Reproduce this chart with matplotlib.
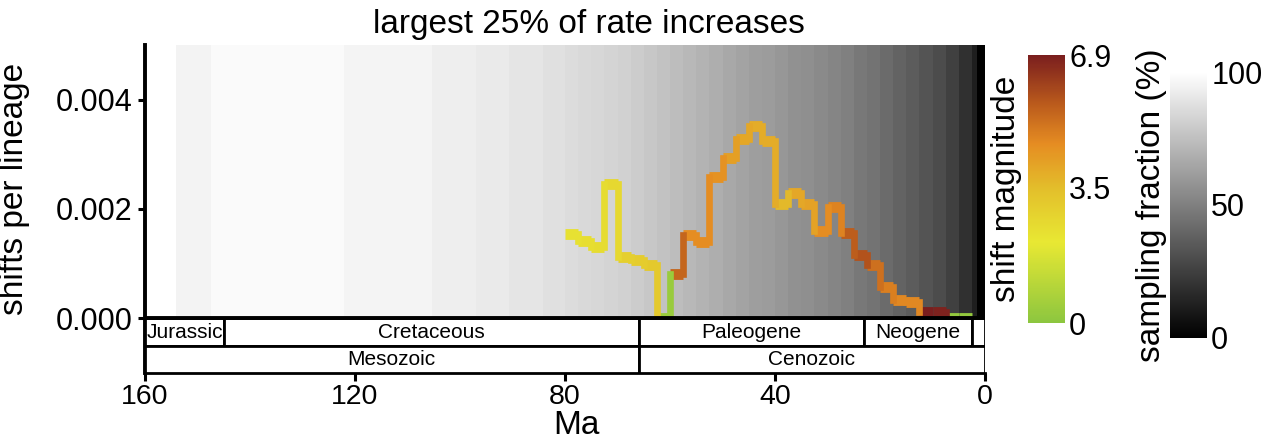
import numpy as np
import matplotlib
matplotlib.use('Agg')
import matplotlib.pyplot as plt
from matplotlib.collections import LineCollection
from matplotlib.colors import LinearSegmentedColormap, Normalize
from matplotlib.patches import Rectangle
from matplotlib.cm import ScalarMappable

plt.rcParams['font.family'] = ['Liberation Sans', 'DejaVu Sans']

# rate-increase bins (Ma, old -> young), 2.5 Ma wide
bin_edges = [80, 77.5, 75, 72.5, 70, 67.5, 65, 62.5, 60, 57.5, 55, 52.5, 50,
             47.5, 45, 42.5, 40, 37.5, 35, 32.5, 30, 27.5, 25, 22.5, 20,
             17.5, 15, 12.5, 10, 7.5, 5, 2.5]
shift_rate = [0.00155, 0.00142, 0.00131, 0.00246, 0.00112, 0.00106, 0.00097,
              0.0, 0.00082, 0.00152, 0.00139, 0.00258, 0.00294, 0.00328,
              0.00351, 0.00324, 0.00210, 0.00230, 0.00210, 0.00159, 0.00203,
              0.00157, 0.00115, 0.00097, 0.00057, 0.00033, 0.00030, 0.00012,
              0.00012, 0.0, 0.0]
shift_mag = [2.3, 2.4, 2.5, 2.6, 2.9, 3.0, 3.1, 0.3, 5.4, 4.6, 4.6, 4.5, 4.2,
             4.0, 3.9, 3.9, 3.6, 4.0, 4.1, 4.6, 4.8, 5.6, 5.8, 5.2, 4.9, 4.7,
             4.7, 6.9, 6.8, 0.2, 0.2]

# sampling fraction through time (background shading)
bg_edges = [154.1, 147.4, 122.1, 105.3, 97.0, 90.7, 84.2, 80, 77.5, 75, 72.5,
            70, 67.5, 65, 62.5, 60, 57.5, 55, 52.5, 50, 47.5, 45, 42.5, 40,
            37.5, 35, 32.5, 30, 27.5, 25, 22.5, 20, 17.5, 15, 12.5, 10, 7.5,
            5, 2.5, 1.5, 0]
bg_frac = [95, 98, 95.5, 93, 91.5, 89.5, 87.5,
           86, 85, 84, 83, 82, 80, 78, 76, 74, 72, 70, 68, 66, 64, 62, 61, 59,
           57, 56, 54, 52, 50, 47, 45, 42, 39, 36, 33, 30, 25, 19,
           12, 0]

# geological time scale
periods = ['Jurassic', 'Cretaceous', 'Paleogene', 'Neogene', '']
period_start = [160, 145, 66, 23, 2.58]
period_end = [145, 66, 23, 2.58, 0]
eras = ['Mesozoic', 'Cenozoic']
era_start = [160, 66]
era_end = [66, 0]

mag_max = 6.9
cmap = LinearSegmentedColormap.from_list('shift', [
    (0.0, '#8cc63f'), (0.30, '#e8e833'), (0.50, '#e3bf2b'),
    (0.67, '#e58c22'), (0.82, '#ba5a1c'), (1.0, '#7a1e1e')])
norm = Normalize(0, mag_max)

fig = plt.figure(figsize=(12.74, 4.42), dpi=100)
ax = fig.add_axes([0.1138, 0.1561, 0.6594, 0.7421])

ax.pcolormesh(bg_edges, [0, 0.005], np.array(bg_frac)[np.newaxis, :],
              cmap='gray', vmin=0, vmax=100, zorder=1)

edges = np.array(bin_edges)
rate = np.array(shift_rate)
mag = np.array(shift_mag)
horiz = [[(edges[i], rate[i]), (edges[i + 1], rate[i])] for i in range(len(rate))]
vert = [[(edges[i + 1], rate[i]), (edges[i + 1], rate[i + 1])]
        for i in range(len(rate) - 1)]
lc_h = LineCollection(horiz, cmap=cmap, norm=norm, linewidths=7.8,
                      capstyle='butt', zorder=3)
lc_h.set_array(mag)
lc_v = LineCollection(vert, cmap=cmap, norm=norm, linewidths=4.8,
                      capstyle='projecting', zorder=3)
lc_v.set_array(mag[:-1])
ax.add_collection(lc_h)
ax.add_collection(lc_v)

# time scale boxes below zero
row = 0.0005
for name, a, b in zip(periods, period_start, period_end):
    ax.add_patch(Rectangle((b, -row), a - b, row, facecolor='white',
                           edgecolor='black', lw=2, zorder=5))
    if name:
        ax.text((a + b) / 2, -row / 2, name, ha='center', va='center',
                fontsize=15, zorder=6)
for name, a, b in zip(eras, era_start, era_end):
    ax.add_patch(Rectangle((b, -2 * row), a - b, row, facecolor='white',
                           edgecolor='black', lw=2, zorder=5))
    ax.text((a + b) / 2, -1.5 * row, name, ha='center', va='center',
            fontsize=15, zorder=6)
ax.axhline(0, color='black', lw=2.8, zorder=6)

ax.set_xlim(160, 0)
ax.set_ylim(-0.001, 0.005)
ax.set_xticks([160, 120, 80, 40, 0])
ax.set_yticks([0, 0.002, 0.004])
ax.set_yticklabels(['0.000', '0.002', '0.004'])
ax.tick_params(axis='y', labelsize=22, length=5, width=2.2, pad=4)
ax.tick_params(axis='x', labelsize=20.5, length=6, width=2.2, pad=2)
for s in ['top', 'right']:
    ax.spines[s].set_visible(False)
ax.spines['left'].set_linewidth(2.8)
ax.spines['bottom'].set_linewidth(2)

ax.set_ylabel('shifts per lineage', fontsize=24)
ax.yaxis.set_label_coords(-0.137, 0.56)
ax.set_xlabel('Ma', fontsize=24)
ax.xaxis.set_label_coords(0.514, -0.16)
ax.xaxis.label.set_va('center')

fig.text(0.462, 1 - 24 / 442, 'largest 25% of rate increases', fontsize=24,
         ha='center', va='center')

# shift magnitude colour bar
cax1 = fig.add_axes([0.8069, 0.2692, 0.029, 0.6063])
cb1 = fig.colorbar(ScalarMappable(norm=norm, cmap=cmap), cax=cax1)
cb1.set_ticks([0, 3.5, 6.9])
cb1.set_ticklabels(['0', '3.5', '6.9'])
cb1.outline.set_visible(False)
cax1.tick_params(length=0, labelsize=22, pad=3)
cax1.yaxis.set_label_position('left')
cb1.set_label('shift magnitude', fontsize=24, labelpad=4)

# sampling fraction colour bar
cax2 = fig.add_axes([0.9184, 0.2353, 0.029, 0.6018])
cb2 = fig.colorbar(ScalarMappable(norm=Normalize(0, 100), cmap='gray'), cax=cax2)
cb2.set_ticks([0, 50, 100])
cb2.outline.set_visible(False)
cax2.tick_params(length=0, labelsize=22, pad=3)
cax2.yaxis.set_label_position('left')
cb2.set_label('sampling fraction (%)', fontsize=24, labelpad=2)

fig.savefig('out.png', dpi=100)
